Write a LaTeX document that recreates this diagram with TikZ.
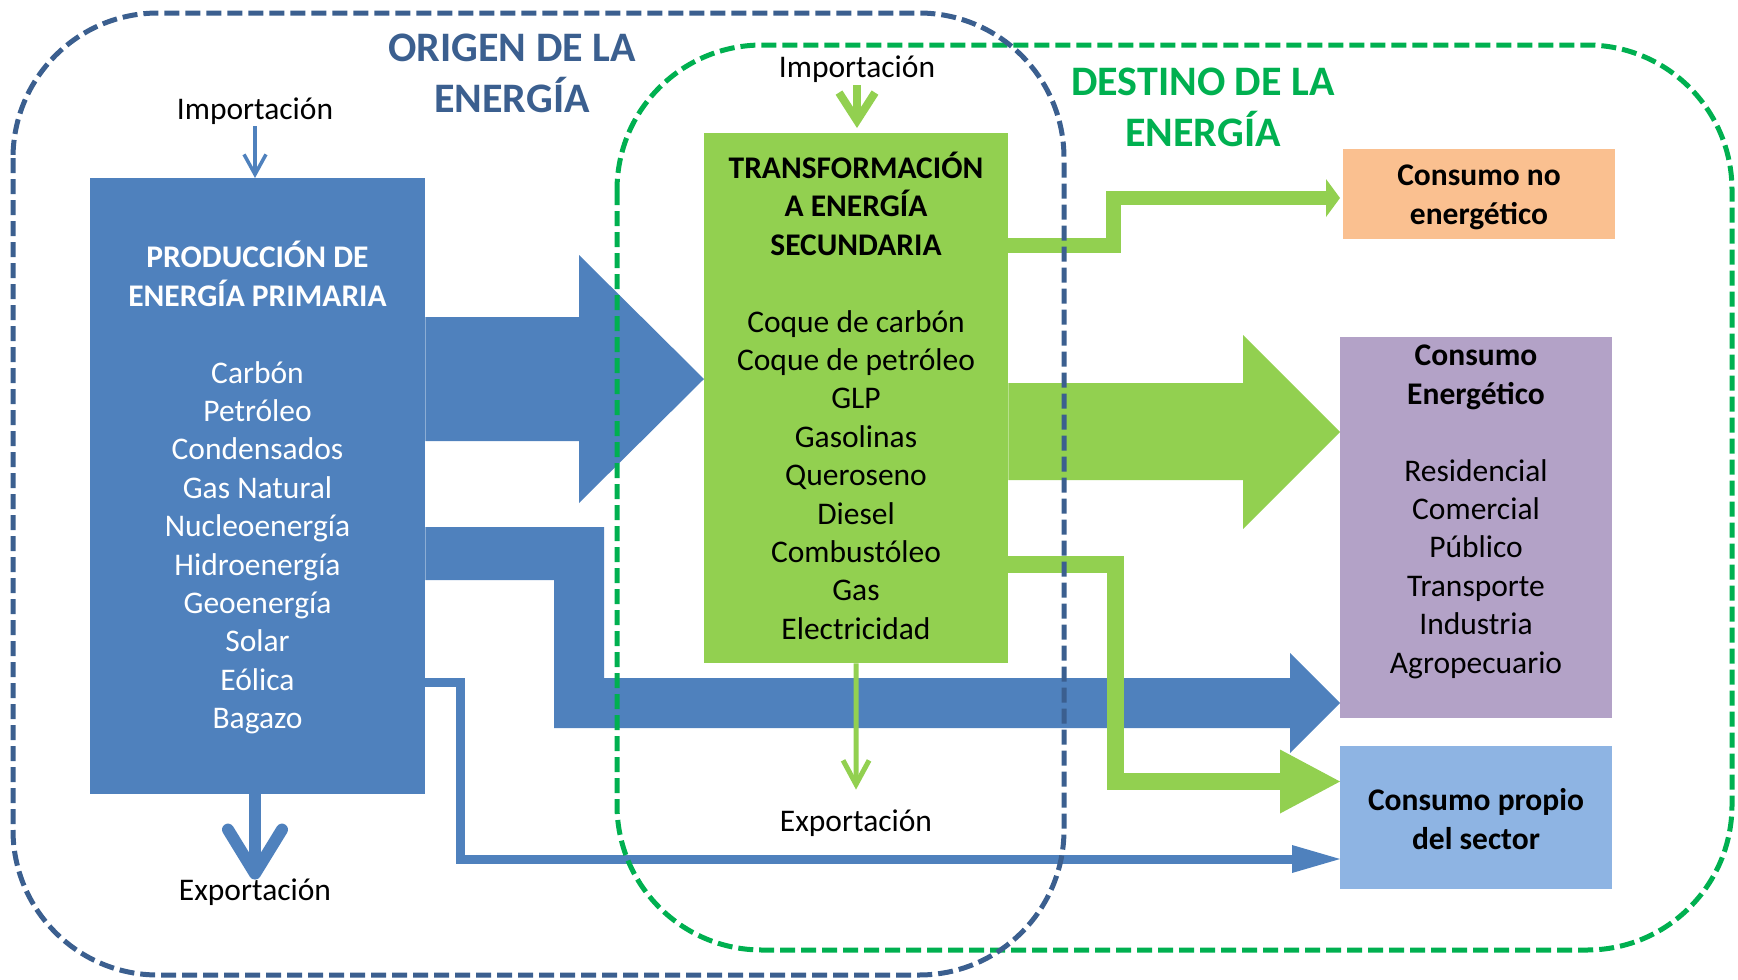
\documentclass[tikz,border=0pt]{standalone}
\usepackage{fontspec}
\setmainfont{Carlito}
\usetikzlibrary{arrows.meta,calc}
\definecolor{dblue}{HTML}{3B5F8F}
\definecolor{dgreen}{HTML}{00B050}
\definecolor{mblue}{HTML}{4F81BD}
\definecolor{lgreen}{HTML}{92D050}
\definecolor{lorange}{HTML}{FAC090}
\definecolor{lpurple}{HTML}{B3A2C7}
\definecolor{lblue}{HTML}{8EB4E3}
\begin{document}
\begin{tikzpicture}[x=1pt,y=-1pt,
  box/.style={draw=none, inner sep=0pt, anchor=north west},
  txt/.style={align=center, inner sep=0pt, font=\fontsize{31.5}{38.4}\selectfont},
  ttl/.style={align=center, inner sep=0pt, font=\fontsize{42}{50}\selectfont\bfseries},
  region/.style={line width=5pt, dash pattern=on 15pt off 6pt, rounded corners=145pt},
]
\useasboundingbox (0,0) rectangle (1738,980);

% boxes
\node[box, fill=mblue, minimum width=335pt, minimum height=616pt] (prod) at (90,178) {};
\node[box, fill=lgreen, minimum width=304pt, minimum height=530pt] (trans) at (704,133) {};
\node[box, fill=lorange, minimum width=272pt, minimum height=90pt] (cnoen) at (1343,149) {};
\node[box, fill=lpurple, minimum width=272pt, minimum height=381pt] (cen) at (1340,337) {};
\node[box, fill=lblue, minimum width=272pt, minimum height=143pt] (cprop) at (1340,746) {};

% blue block arrows
\fill[mblue] (prod.east |- 0,317) -- (579,317) -- (579,255) -- (trans.west |- 0,379)
  -- (579,503) -- (579,441) -- (prod.east |- 0,441) -- cycle;
\fill[mblue] (prod.east |- 0,527) -- (604,527) -- (604,678) -- (1290,678) -- (1290,653)
  -- (cen.west |- 0,703) -- (1290,753) -- (1290,728) -- (554,728) -- (554,580)
  -- (prod.east |- 0,580) -- cycle;
\draw[mblue, line width=9pt, -{Triangle[length=48pt,width=28pt,line width=0pt]}]
  (prod.east |- 0,682) -- (460,682) -- (460,859) -- (cprop.west |- 0,859);

% green arrows
\fill[lgreen] (trans.east |- 0,383) -- (1243,383) -- (1243,335) -- (cen.west |- 0,432)
  -- (1243,529) -- (1243,480) -- (trans.east |- 0,480) -- cycle;
\draw[lgreen, line width=14.5pt, -{Triangle[length=14pt,width=38pt,line width=0pt]}, shorten >=3pt]
  (trans.east |- 0,245.5) -- (1113.5,245.5) -- (1113.5,198) -- (cnoen.west |- 0,198);
\draw[lgreen, line width=17pt, -{Triangle[length=60pt,width=64pt,line width=0pt]}]
  (trans.east |- 0,564.5) -- (1115,564.5) -- (1115,781.5) -- (cprop.west |- 0,781.5);

% texts
\node[txt, text=white] (prodtxt) at (257.5,490.7) {\strut\textbf{PRODUCCIÓN DE}\\\textbf{ENERGÍA PRIMARIA}\\~\\Carbón\\Petróleo\\Condensados\\Gas Natural\\Nucleoenergía\\Hidroenergía\\Geoenergía\\Solar\\Eólica\\Bagazo\strut};
\node[txt] (transtxt) at (856,401.2) {\strut\textbf{TRANSFORMACIÓN}\\\textbf{A ENERGÍA}\\\textbf{SECUNDARIA}\\~\\Coque de carbón\\Coque de petróleo\\GLP\\Gasolinas\\Queroseno\\Diesel\\Combustóleo\\Gas\\Electricidad\strut};
\node[txt] (cnoentxt) at (1479,197.5) {\strut\textbf{Consumo no}\\\textbf{energético}\strut};
\node[txt] (centxt) at (1476,511.9) {\strut\textbf{Consumo}\\\textbf{Energético}\\~\\Residencial\\Comercial\\Público\\Transporte\\Industria\\Agropecuario\strut};
\node[txt] (cproptxt) at (1476,822.5) {\strut\textbf{Consumo propio}\\\textbf{del sector}\strut};

\node[txt] (impA) at (255,112) {\strut Importación};
\node[txt] (expA) at (255,893) {\strut Exportación};
\node[txt] (impB) at (857,70) {\strut Importación};
\node[txt] (expB) at (856,824) {\strut Exportación};

\node[ttl, text=dblue] (torig) at (512,77.3) {\strut ORIGEN DE LA\\ENERGÍA\strut};
\node[ttl, text=dgreen] (tdest) at (1203,111.3) {\strut DESTINO DE LA\\ENERGÍA\strut};

% small arrows
\draw[mblue, line width=3.5pt, -{Straight Barb[length=20pt,width=22pt]}, shorten <=-5pt]
  (impA) -- (impA |- prod.north);
\draw[mblue, line width=12pt, -{Straight Barb[length=44pt,width=54pt,round]}, shorten >=-6pt]
  (prod.south -| expA.north) -- (expA.north);
\draw[lgreen, line width=8pt, -{Straight Barb[length=28pt,width=36pt]}, shorten <=-4pt, shorten >=5pt]
  (impB) -- (impB |- trans.north);
\draw[lgreen, line width=5pt, -{Straight Barb[length=24pt,width=26pt]}, shorten >=15pt]
  (trans.south) -- (expB.north);

% regions
\draw[dgreen, region] (617,45) rectangle (1732,950);
\draw[dblue, region] (13,13) rectangle (1064,975);
\end{tikzpicture}
\end{document}
